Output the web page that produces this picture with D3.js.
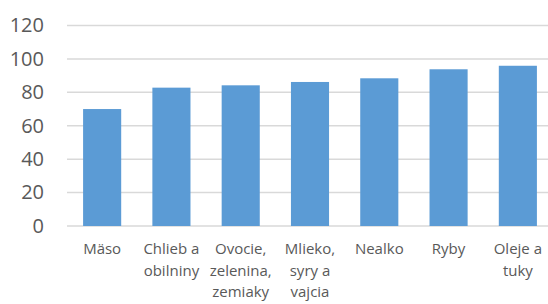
<!DOCTYPE html>
<html><head><meta charset="utf-8">
<script src="https://cdn.jsdelivr.net/npm/d3@7"></script>
<style>html,body{margin:0;padding:0;background:#fff;}svg{display:block;}</style>
</head><body>
<svg id="c" width="548" height="304"></svg>
<script>
const categories = ["Mäso", "Chlieb a obilniny", "Ovocie, zelenina, zemiaky", "Mlieko, syry a vajcia", "Nealko", "Ryby", "Oleje a tuky"];
const values = [70, 82.8, 84.2, 86.2, 88.4, 93.8, 95.9];
const yTicks = [0, 20, 40, 60, 80, 100, 120];

const svg = d3.select("#c");
const font = "'Open Sans', sans-serif";
const x = d3.scaleBand().domain(categories).range([67.5, 552.5]).paddingInner(0.45).paddingOuter(0.225);
const y = d3.scaleLinear().domain([0, 120]).range([226, 25.5]);

// gridlines
svg.append("g").selectAll("line").data(yTicks).join("line")
  .attr("x1", 67).attr("x2", 548)
  .attr("y1", d => y(d)).attr("y2", d => y(d))
  .attr("stroke", "#d9d9d9").attr("stroke-width", 1.5);

// y axis labels
const yAxis = d3.axisLeft(y).tickValues(yTicks).tickSize(0).tickPadding(0);
const ga = svg.append("g").attr("transform", "translate(44,0)").call(yAxis);
ga.select(".domain").remove();
ga.selectAll("text").attr("font-family", font).attr("font-size", 20).attr("fill", "#595959");

// bars
svg.append("g").selectAll("rect").data(values).join("rect")
  .attr("x", (d, i) => x(categories[i]))
  .attr("width", x.bandwidth())
  .attr("y", d => y(d))
  .attr("height", d => y(0) - y(d))
  .attr("fill", "#5b9bd5");

// x labels with wrapping
const maxW = x.step() - 2;
const xl = svg.append("g");
categories.forEach(cat => {
  const t = xl.append("text").attr("font-family", font).attr("font-size", 15)
    .attr("fill", "#595959").attr("text-anchor", "middle")
    .attr("x", x(cat) + x.bandwidth() / 2).attr("y", 254);
  const words = cat.split(" ");
  let lines = [], cur = "";
  const probe = t.append("tspan");
  words.forEach(w => {
    const test = cur ? cur + " " + w : w;
    probe.text(test);
    if (cur && probe.node().getComputedTextLength() > maxW) { lines.push(cur); cur = w; }
    else cur = test;
  });
  lines.push(cur);
  probe.remove();
  lines.forEach((ln, i) => {
    t.append("tspan").attr("x", x(cat) + x.bandwidth() / 2).attr("dy", i === 0 ? 0 : 21.5).text(ln);
  });
});
</script>
</body></html>
